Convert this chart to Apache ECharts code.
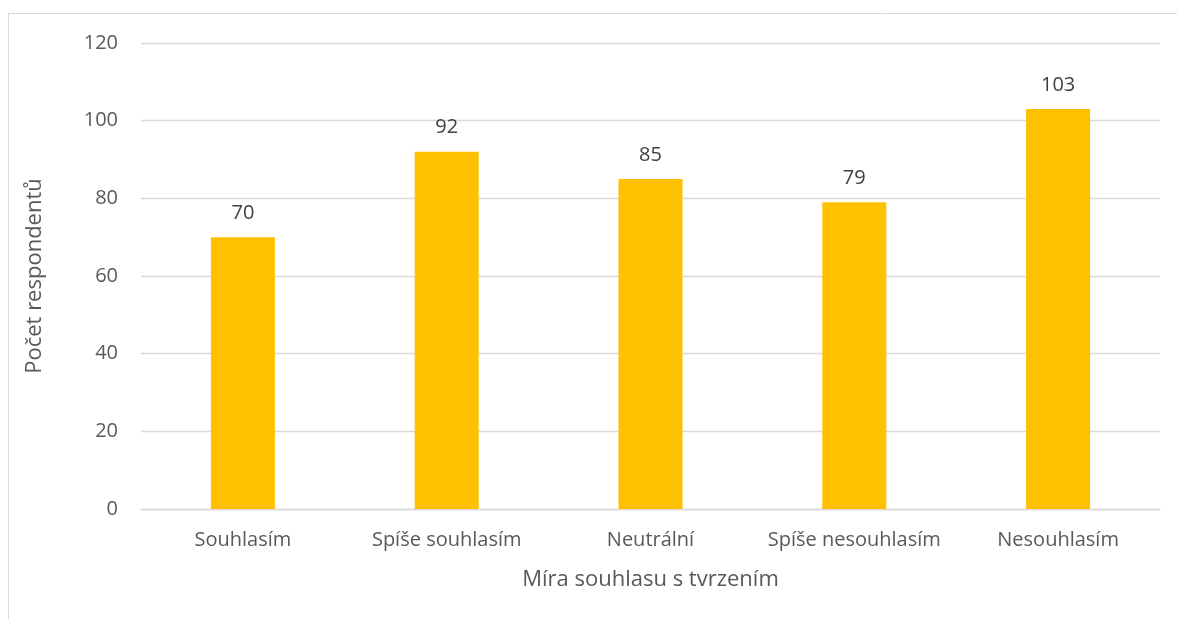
<!DOCTYPE html>
<html>
<head>
<meta charset="utf-8">
<script src="https://cdn.jsdelivr.net/npm/echarts@6/dist/echarts.min.js"></script>
<style>
  html, body { margin: 0; padding: 0; background: #ffffff; }
  #chart { width: 1177px; height: 619px; }
</style>
</head>
<body>
<div id="chart"></div>
<script>
// Survey answers: level of agreement with the statement
const categories = ['Souhlasím', 'Spíše souhlasím', 'Neutrální', 'Spíše nesouhlasím', 'Nesouhlasím'];
const respondents = [70, 92, 85, 79, 103];
const yTicks = [0, 20, 40, 60, 80, 100, 120];

const FONT = 'Open Sans';
const chart = echarts.init(document.getElementById('chart'), null, { renderer: 'canvas' });

chart.setOption({
  backgroundColor: '#ffffff',
  animation: false,
  textStyle: { fontFamily: FONT },
  graphic: [{
    type: 'rect',
    shape: { x: 8.5, y: 13.5, width: 1200, height: 700 },
    style: { fill: 'none', stroke: '#d9d9d9', lineWidth: 1 },
    silent: true,
    z: -1
  }],
  grid: { left: 141, right: 17, top: 43, bottom: 110, containLabel: false },
  xAxis: {
    type: 'category',
    data: categories,
    name: 'Míra souhlasu s tvrzením',
    nameLocation: 'middle',
    nameGap: 60,
    nameTextStyle: { color: '#595959', fontSize: 22, fontFamily: FONT },
    axisLine: { show: true, lineStyle: { color: '#d9d9d9', width: 1.3 } },
    axisTick: { show: false },
    axisLabel: { interval: 0, color: '#595959', fontSize: 20, margin: 21, fontFamily: FONT }
  },
  yAxis: {
    type: 'value',
    min: yTicks[0],
    max: yTicks[yTicks.length - 1],
    interval: yTicks[1] - yTicks[0],
    name: 'Počet respondentů',
    nameLocation: 'middle',
    nameGap: 95,
    nameRotate: 90,
    nameTextStyle: { color: '#595959', fontSize: 22, fontFamily: FONT },
    axisLine: { show: false },
    axisTick: { show: false },
    axisLabel: { color: '#595959', fontSize: 20, margin: 23, fontFamily: FONT },
    splitLine: { show: true, lineStyle: { color: '#d9d9d9', width: 1.3 } }
  },
  series: [{
    type: 'bar',
    data: respondents,
    barWidth: '31.4%',
    itemStyle: { color: '#FFC000' },
    label: {
      show: true,
      position: 'top',
      distance: 14,
      color: '#404040',
      fontSize: 20,
      fontFamily: FONT
    }
  }]
});
</script>
</body>
</html>
